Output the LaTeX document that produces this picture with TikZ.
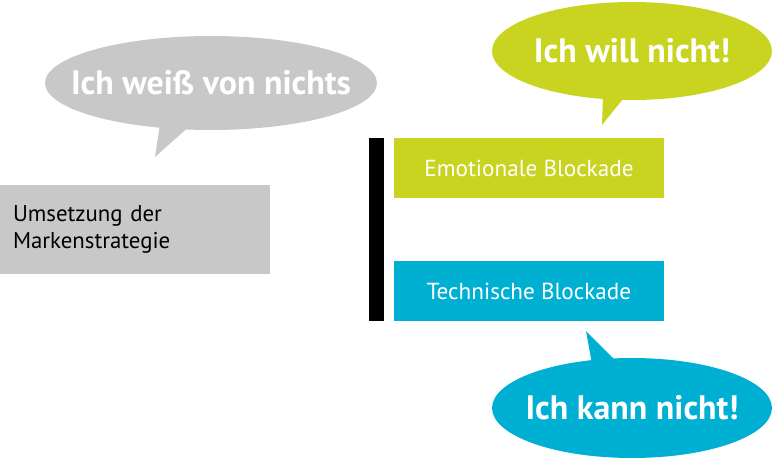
\documentclass[tikz,border=0pt]{standalone}
\usepackage{fontspec}
\setmainfont{PT Sans}
\usetikzlibrary{positioning,calc,shapes.geometric}

\definecolor{grau}{HTML}{C8C8C8}
\definecolor{gruen}{HTML}{C9D421}
\definecolor{blau}{HTML}{00B0D3}

\tikzset{
  blase/.style={ellipse, inner sep=0pt},
  blasentext/.style={inner sep=0pt, text=white, font=\fontsize{19.3}{22}\selectfont\bfseries},
  kasten/.style={rectangle, inner sep=0pt, minimum width=5.4cm, text=white, font=\fontsize{13.2}{15}\selectfont},
}

\begin{document}
\begin{tikzpicture}[x=0.02cm,y=0.02cm]
                    \useasboundingbox (0,0) rectangle (772,458);
                    % Spitzen der Sprechblasen
                    \coordinate (WL) at (160,334);
                    \coordinate (WR) at (192,334);
                    \coordinate (WT) at (155,301);
                    \coordinate (IL) at (603,362);
                    \coordinate (IR) at (627,364);
                    \coordinate (IT) at (602,333);
                    \coordinate (KL) at (592,94);
                    \coordinate (KR) at (617,96);
                    \coordinate (KT) at (586,127);

                    \fill[grau] (WL) -- (WT) -- (WR) -- cycle;
                    \fill[gruen] (IL) -- (IT) -- (IR) -- cycle;
                    \fill[blau] (KL) -- (KT) -- (KR) -- cycle;

                    % Sprechblasen
                    \node[blase, fill=grau, minimum width=6.64cm, minimum height=1.88cm] (weiss) at (211,375) {};
                    \node[blase, fill=gruen, minimum width=5.6cm, minimum height=1.96cm] (will) at (632,407) {};
                    \node[blase, fill=blau, minimum width=5.6cm, minimum height=2cm] (kann) at (632,50) {};
                    \node[blasentext] (weisstext) at (weiss.center) {Ich weiß von nichts};
                    \node[blasentext] (willtext) at (will.center) {Ich will nicht!};
                    \node[blasentext] (kanntext) at (kann.center) {Ich kann nicht!};

                    % Kaesten
                    \node[rectangle, fill=grau, inner xsep=0.26cm, inner ysep=0pt, text width=4.88cm, minimum height=1.78cm, align=left, font=\fontsize{13}{15.3}\selectfont] (marke) at (135,228.5) {Umsetzung der\\Markenstrategie};
                    \node[kasten, fill=gruen, minimum height=1.2cm] (emo) at (529,290) {Emotionale Blockade};
                    \node[kasten, fill=blau, minimum height=1.2cm] (tech) at (529,167) {Technische Blockade};

                    \fill[black] (369,137) rectangle (384,320);
\end{tikzpicture}
\end{document}
